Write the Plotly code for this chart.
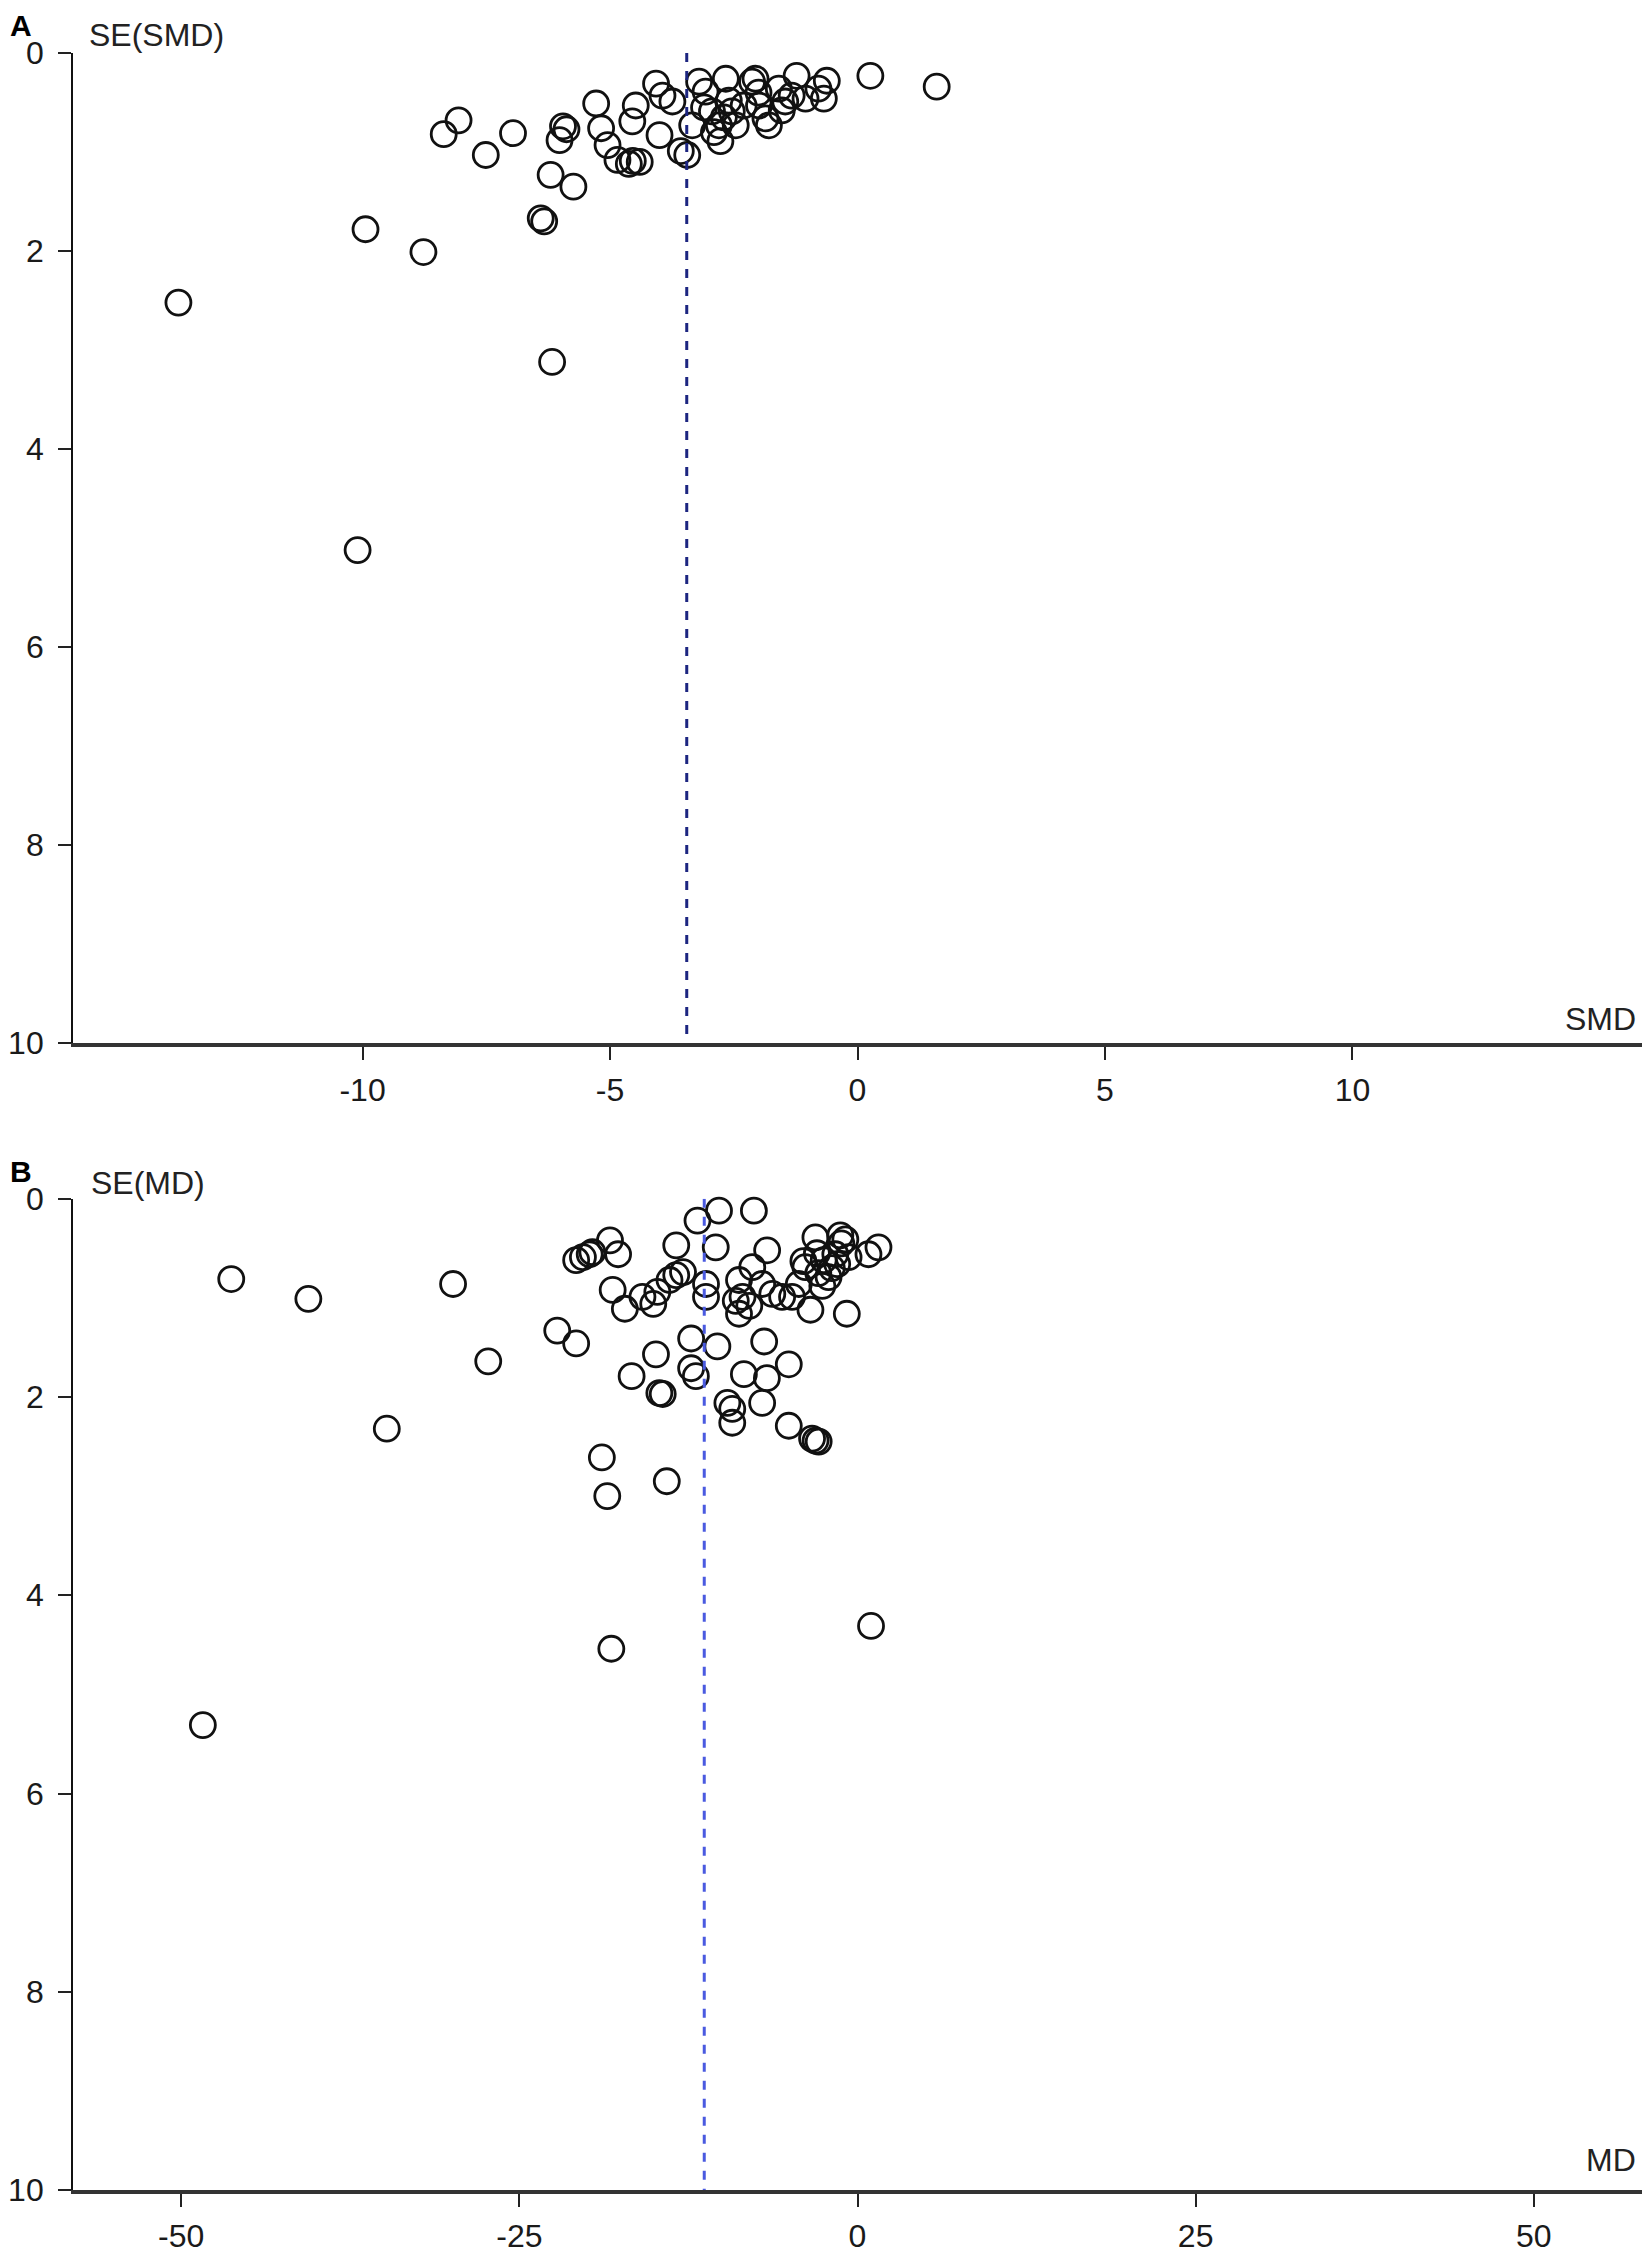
import plotly.graph_objects as go

# ---------------- Panel A data (SMD vs SE(SMD)) ----------------
smd = [-13.72, -10.1, -9.94, -8.77, -6.17, -6.4, -6.33, -6.2, -5.74, -8.36, -8.06, -7.51, -6.96,
       -5.95, -5.88, -6.02, -5.28, -5.18, -5.05, -4.85, -4.54, -4.62, -4.48, -4.55, -4.07, -3.94,
       -4.0, -3.74, -3.57, -3.34, -3.44, -3.2, -3.07, -2.94, -2.8, -2.77, -2.9, -2.66, -2.6, -2.54,
       -2.46, -2.3, -2.06, -2.13, -1.99, -1.86, -1.79, -1.59, -1.46, -1.53, -1.33, -1.23, -1.05,
       -0.79, -0.68, -0.62, 0.26, 1.6, -3.1, -2.7, -4.4, -2.0]
se_smd = [2.52, 5.02, 1.78, 2.01, 3.12, 1.67, 1.70, 1.23, 1.35, 0.82, 0.68, 1.03, 0.81,
          0.74, 0.77, 0.88, 0.51, 0.76, 0.93, 1.08, 1.09, 1.12, 0.53, 0.69, 0.31, 0.43,
          0.83, 0.49, 0.99, 0.73, 1.03, 0.29, 0.39, 0.59, 0.73, 0.89, 0.80, 0.26, 0.48, 0.59,
          0.73, 0.53, 0.26, 0.29, 0.53, 0.66, 0.73, 0.36, 0.49, 0.58, 0.43, 0.23, 0.46,
          0.36, 0.46, 0.28, 0.23, 0.34, 0.55, 0.65, 1.10, 0.40]
pooled_smd = -3.45

# ---------------- Panel B data (MD vs SE(MD)) ----------------
md = [-46.3, -40.6, -29.9, -27.3, -34.8, -48.4, -18.2, 1.0, -18.9, -18.5, -14.1, -22.2, -20.8,
      -10.24, -7.66, -11.83, -10.48, -13.4, -6.68, -18.3, -17.7, -20.8, -20.3, -19.8, -19.6,
      -18.1, -17.2, -15.9, -15.1, -14.8, -13.9, -13.4, -12.9, -11.2, -11.2, -8.76, -8.5, -8.76,
      -7.78, -7.05, -6.3, -5.57, -4.84, -4.34, -3.85, -3.11, -2.14, -1.64, -1.27, -0.9, -0.66,
      0.81, 1.55, -3.48, -0.79, -6.9, -10.36, -12.3, -14.9, -16.7, -14.65, -14.4, -12.3, -11.95,
      -8.4, -6.7, -5.08, -9.62, -9.26, -9.26, -7.05, -5.08, -3.36, -3.1, -2.87,
      -2.6, -2.9, -1.5, -4.0, -3.0, -1.2, -2.5, -1.9, -9.0, -8.0]
se_md = [0.81, 1.01, 0.86, 1.64, 2.32, 5.31, 4.54, 4.31, 2.61, 3.0, 2.85, 1.33, 1.46,
         0.12, 0.12, 0.22, 0.49, 0.47, 0.52, 0.42, 0.56, 0.62, 0.59, 0.56, 0.54,
         0.92, 1.11, 0.99, 1.06, 0.94, 0.82, 0.77, 0.74, 0.86, 0.99, 0.82, 0.99, 1.16,
         0.69, 0.86, 0.96, 0.99, 0.99, 0.86, 0.69, 0.39, 0.79, 0.56, 0.37, 0.41, 0.59,
         0.56, 0.49, 1.12, 1.16, 1.44, 1.49, 1.41, 1.57, 1.79, 1.96, 1.97, 1.71, 1.79,
         1.77, 1.81, 1.67, 2.06, 2.12, 2.26, 2.06, 2.29, 2.42, 2.44, 2.45,
         0.88, 0.75, 0.66, 0.63, 0.55, 0.45, 0.62, 0.70, 1.03, 1.08]
pooled_md = -11.33

# ---------------- Axis ticks ----------------
y_ticks = [0, 2, 4, 6, 8, 10]
y_ticktext = ["0", "2", "4", "6", "8", "10"]
xa_ticks = [-10, -5, 0, 5, 10]
xa_ticktext = ["-10", "-5", "0", "5", "10"]
xb_ticks = [-50, -25, 0, 25, 50]
xb_ticktext = ["-50", "-25", "0", "25", "50"]
se_range = [0, 10]

FONT = "Liberation Sans, Arial, sans-serif"
# the page body has an 8px margin: size the figure so the page is exactly 1650x2262
W, H = 1634, 2246
ML, MR, MT, MB = 64, 0, 45, 43
plot_h = H - MT - MB
dom_a = [1 - 1000 / plot_h, 1]
dom_b = [0, 1001 / plot_h]

fig = go.Figure()

marker = dict(symbol="circle-open", size=25, color="#111111", line=dict(width=2.8, color="#111111"))

fig.add_trace(go.Scatter(x=smd, y=se_smd, mode="markers", marker=marker,
                         xaxis="x", yaxis="y", showlegend=False, cliponaxis=False))
fig.add_trace(go.Scatter(x=[pooled_smd, pooled_smd], y=se_range, mode="lines",
                         line=dict(color="#1c2580", width=3, dash="dash"),
                         xaxis="x", yaxis="y", showlegend=False))
fig.add_trace(go.Scatter(x=md, y=se_md, mode="markers", marker=marker,
                         xaxis="x2", yaxis="y2", showlegend=False, cliponaxis=False))
fig.add_trace(go.Scatter(x=[pooled_md, pooled_md], y=se_range, mode="lines",
                         line=dict(color="#4a5ae0", width=3, dash="dash"),
                         xaxis="x2", yaxis="y2", showlegend=False))

tickfont = dict(family=FONT, size=32, color="#1a1a1a")

def xax(domain_anchor, rng, tv, tt, overlay=None):
    d = dict(range=rng, autorange=False, tickmode="array", tickvals=tv, ticktext=tt,
             showgrid=False, zeroline=False, fixedrange=True, anchor=domain_anchor)
    if overlay is None:
        d.update(showline=True, linewidth=4, linecolor="#333333", ticks="outside",
                 ticklen=13, tickwidth=2, tickcolor="#222222", tickfont=tickfont,
                 ticklabelstandoff=2)
    else:
        d.update(overlaying=overlay, showline=False, ticks="inside", ticklen=13,
                 tickwidth=2, tickcolor="#222222", showticklabels=False)
    return d

def yax(domain, anchor, overlay=None):
    d = dict(range=[10, 0], autorange=False, tickmode="array", tickvals=y_ticks,
             ticktext=y_ticktext, showgrid=False, zeroline=False, fixedrange=True,
             anchor=anchor)
    if overlay is None:
        d.update(domain=domain, showline=True, linewidth=1.8, linecolor="#111111",
                 ticks="outside", ticklen=13, tickwidth=2, tickcolor="#222222",
                 tickfont=tickfont, ticklabelstandoff=8)
    else:
        d.update(overlaying=overlay, showline=False, ticks="inside", ticklen=14,
                 tickwidth=2, tickcolor="#222222", showticklabels=False)
    return d

fig.update_layout(
    width=W, height=H,
    margin=dict(l=ML, r=MR, t=MT, b=MB),
    paper_bgcolor="white", plot_bgcolor="white",
    xaxis=xax("y", [-15.85, 15.85], xa_ticks, xa_ticktext),
    yaxis=yax(dom_a, "x"),
    xaxis2=xax("y2", [-58, 58], xb_ticks, xb_ticktext),
    yaxis2=yax(dom_b, "x2"),
    xaxis3=xax("y", [-15.85, 15.85], xa_ticks, xa_ticktext, overlay="x"),
    yaxis3=yax(dom_a, "x", overlay="y"),
    xaxis4=xax("y2", [-58, 58], xb_ticks, xb_ticktext, overlay="x2"),
    yaxis4=yax(dom_b, "x2", overlay="y2"),
)

lab = dict(family=FONT, size=32, color="#222222")
letter = dict(family=FONT, size=30, color="#000000")
ann = [
    dict(text="SE(SMD)", xref="x domain", yref="y domain", x=0, y=1, xanchor="left",
         yanchor="bottom", xshift=14, yshift=-2, showarrow=False, font=lab),
    dict(text="SMD", xref="x domain", yref="y domain", x=1, y=0, xanchor="right",
         yanchor="bottom", xshift=-4, yshift=4, showarrow=False, font=lab),
    dict(text="SE(MD)", xref="x2 domain", yref="y2 domain", x=0, y=1, xanchor="left",
         yanchor="bottom", xshift=16, yshift=-4, showarrow=False, font=lab),
    dict(text="MD", xref="x2 domain", yref="y2 domain", x=1, y=0, xanchor="right",
         yanchor="bottom", xshift=-4, yshift=10, showarrow=False, font=lab),
    dict(text="<b>A</b>", xref="paper", yref="y domain", x=0, y=1, xanchor="left",
         yanchor="top", xshift=-ML, yshift=MT, borderpad=0, showarrow=False, font=letter),
    dict(text="<b>B</b>", xref="paper", yref="y2 domain", x=0, y=1, xanchor="left",
         yanchor="top", xshift=-ML, yshift=45, borderpad=0, showarrow=False, font=letter),
]
fig.update_layout(annotations=ann)

fig.write_html("out.html")
